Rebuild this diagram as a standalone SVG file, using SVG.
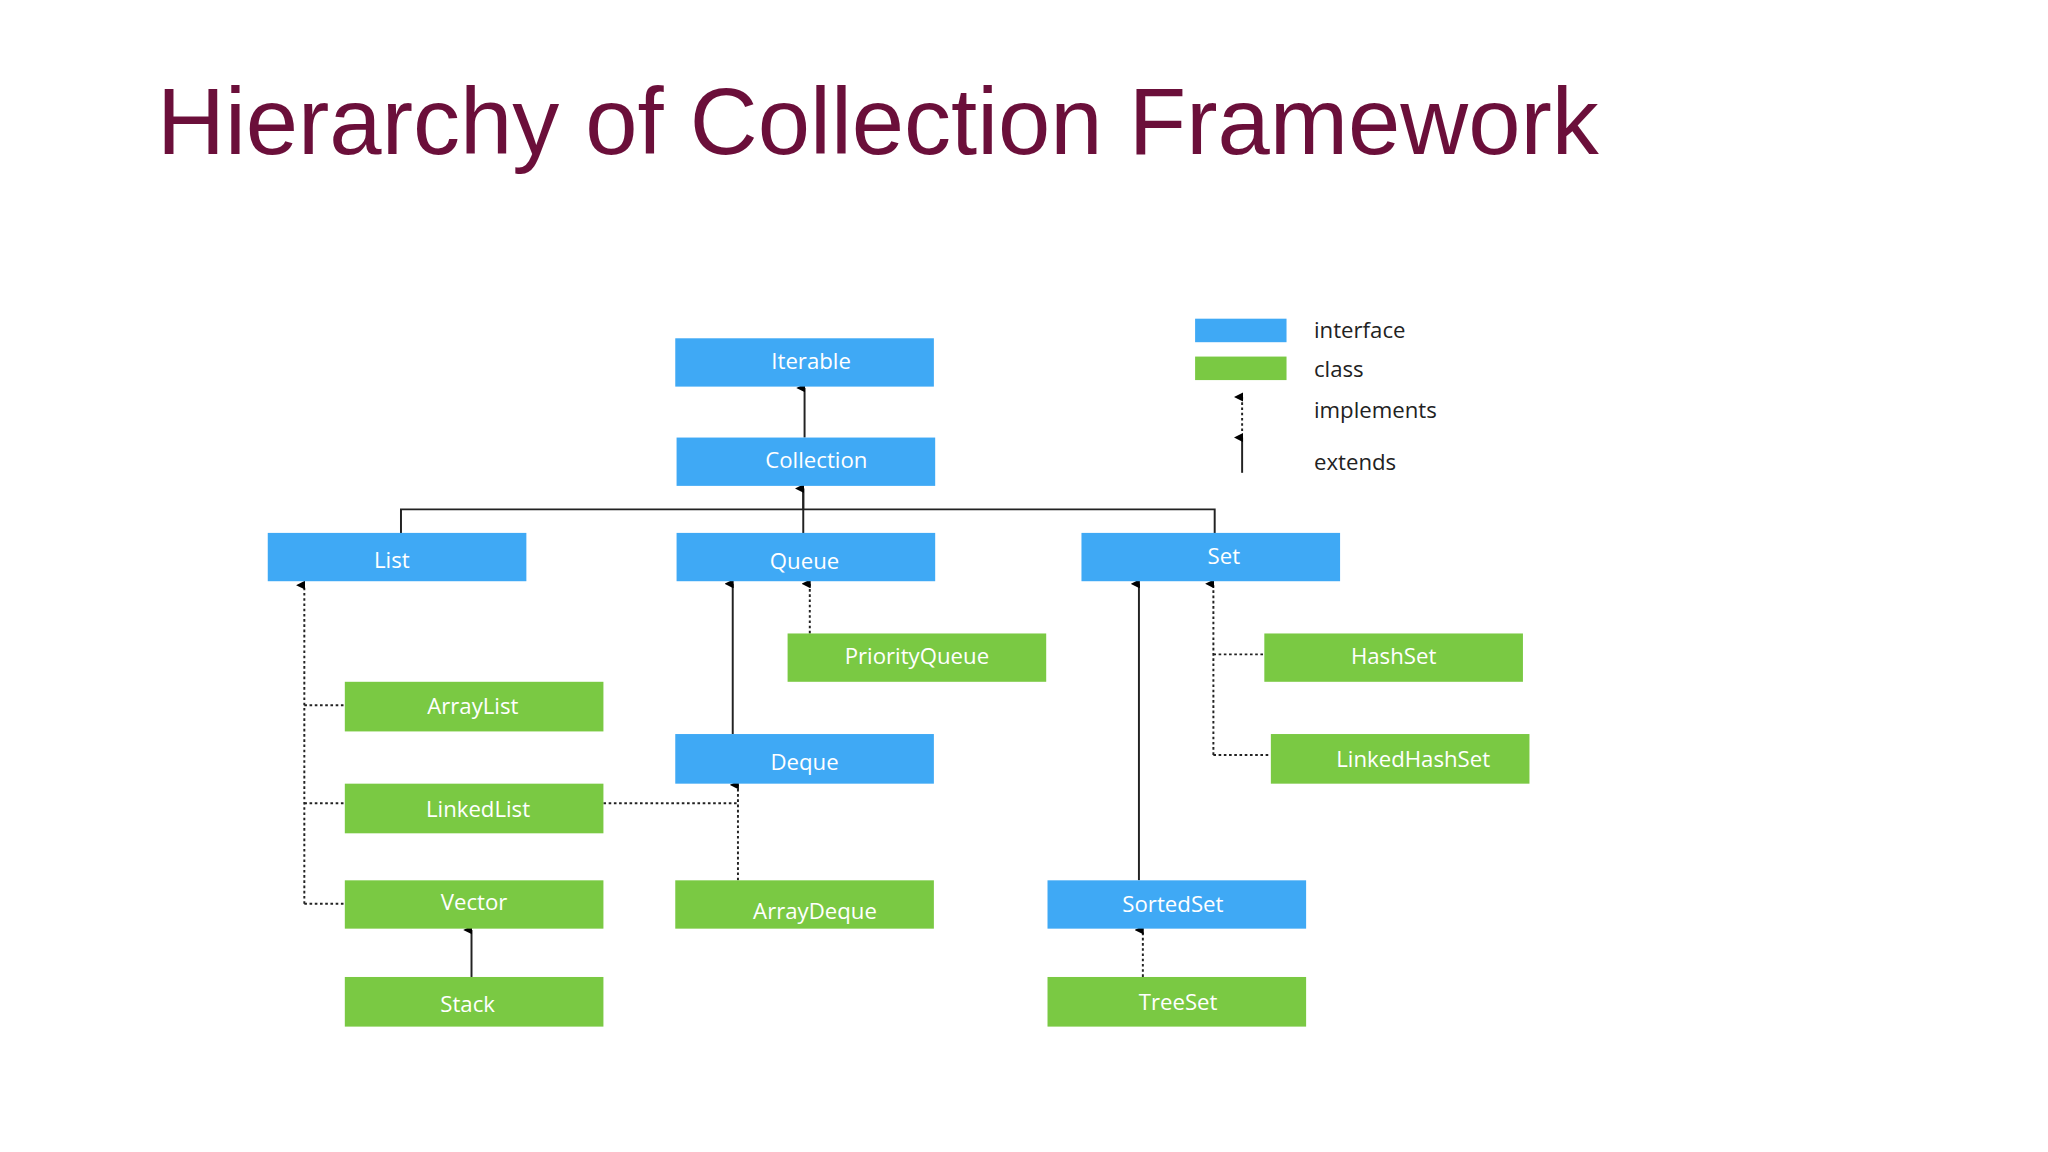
<svg xmlns="http://www.w3.org/2000/svg" width="2048" height="1152" viewBox="0 0 2048 1152">
<style>
.i{fill:#3FA9F5}.c{fill:#7AC943}
.t{font-family:"Open Sans",sans-serif;font-size:17px;fill:#fff;text-anchor:middle;dominant-baseline:central}
.lg{font-family:"Open Sans",sans-serif;font-size:17px;fill:#222}
.s{stroke:#222;stroke-width:1.5;fill:none}
.d{stroke:#222;stroke-width:1.5;fill:none;stroke-dasharray:2 2}
</style>
<defs><marker id="a" viewBox="0 0 10 10" refX="5" refY="9" markerWidth="7" markerHeight="7" orient="auto-start-reverse" markerUnits="userSpaceOnUse"><path d="M0,10 L5,0 L10,10 Z" fill="#000"/></marker></defs>
<rect width="2048" height="1152" fill="#fff"/>
<text x="157" y="154" font-family="Liberation Sans,Arial,sans-serif" font-size="94" fill="#6B0F3A">Hierarchy of Collection Framework</text>
<g transform="scale(1.30612)">
<g id="connectors">
<path class="s" d="M616,335 V297" marker-end="url(#a)"/>
<path class="s" d="M307,408 V390 H930 V408 M615,408 V374"/>
<path class="s" d="M615,390 V374" marker-end="url(#a)"/>
<path class="d" d="M233,692 V448" marker-end="url(#a)"/>
<path class="d" d="M233,540 H264 M233,615 H264 M233,692 H264"/>
<path class="s" d="M561,562 V447" marker-end="url(#a)"/>
<path class="d" d="M620,485 V447" marker-end="url(#a)"/>
<path class="d" d="M462,615 H565"/>
<path class="d" d="M565,674 V601" marker-end="url(#a)"/>
<path class="s" d="M872,674 V447" marker-end="url(#a)"/>
<path class="d" d="M929,578 V447" marker-end="url(#a)"/>
<path class="d" d="M929,501 H968 M929,578 H973"/>
<path class="s" d="M361,748 V712" marker-end="url(#a)"/>
<path class="d" d="M875,748 V712" marker-end="url(#a)"/>
</g>
<g id="Iterable"><rect class="i" x="517" y="259" width="198" height="37"/><text class="t" x="621" y="276">Iterable</text></g>
<g id="Collection"><rect class="i" x="518" y="335" width="198" height="37"/><text class="t" x="625" y="352">Collection</text></g>
<g id="List"><rect class="i" x="205" y="408" width="198" height="37"/><text class="t" x="300" y="428">List</text></g>
<g id="Queue"><rect class="i" x="518" y="408" width="198" height="37"/><text class="t" x="616" y="429">Queue</text></g>
<g id="Set"><rect class="i" x="828" y="408" width="198" height="37"/><text class="t" x="937" y="425">Set</text></g>
<g id="PriorityQueue"><rect class="c" x="603" y="485" width="198" height="37"/><text class="t" x="702" y="502">PriorityQueue</text></g>
<g id="HashSet"><rect class="c" x="968" y="485" width="198" height="37"/><text class="t" x="1067" y="502">HashSet</text></g>
<g id="ArrayList"><rect class="c" x="264" y="522" width="198" height="38"/><text class="t" x="362" y="540">ArrayList</text></g>
<g id="Deque"><rect class="i" x="517" y="562" width="198" height="38"/><text class="t" x="616" y="583">Deque</text></g>
<g id="LinkedHashSet"><rect class="c" x="973" y="562" width="198" height="38"/><text class="t" x="1082" y="581">LinkedHashSet</text></g>
<g id="LinkedList"><rect class="c" x="264" y="600" width="198" height="38"/><text class="t" x="366" y="619">LinkedList</text></g>
<g id="Vector"><rect class="c" x="264" y="674" width="198" height="37"/><text class="t" x="363" y="690">Vector</text></g>
<g id="ArrayDeque"><rect class="c" x="517" y="674" width="198" height="37"/><text class="t" x="624" y="697">ArrayDeque</text></g>
<g id="SortedSet"><rect class="i" x="802" y="674" width="198" height="37"/><text class="t" x="898" y="692">SortedSet</text></g>
<g id="Stack"><rect class="c" x="264" y="748" width="198" height="38"/><text class="t" x="358" y="768">Stack</text></g>
<g id="TreeSet"><rect class="c" x="802" y="748" width="198" height="38"/><text class="t" x="902" y="767">TreeSet</text></g>
<g id="legend">
<rect class="i" x="915" y="244" width="70" height="18"/>
<rect class="c" x="915" y="273" width="70" height="18"/>
<path class="d" d="M951,330 V304" marker-end="url(#a)"/>
<path class="s" d="M951,362 V335" marker-end="url(#a)"/>
<text class="lg" x="1006" y="259">interface</text>
<text class="lg" x="1006" y="289">class</text>
<text class="lg" x="1006" y="320">implements</text>
<text class="lg" x="1006" y="360">extends</text>
</g>
</g>
</svg>
